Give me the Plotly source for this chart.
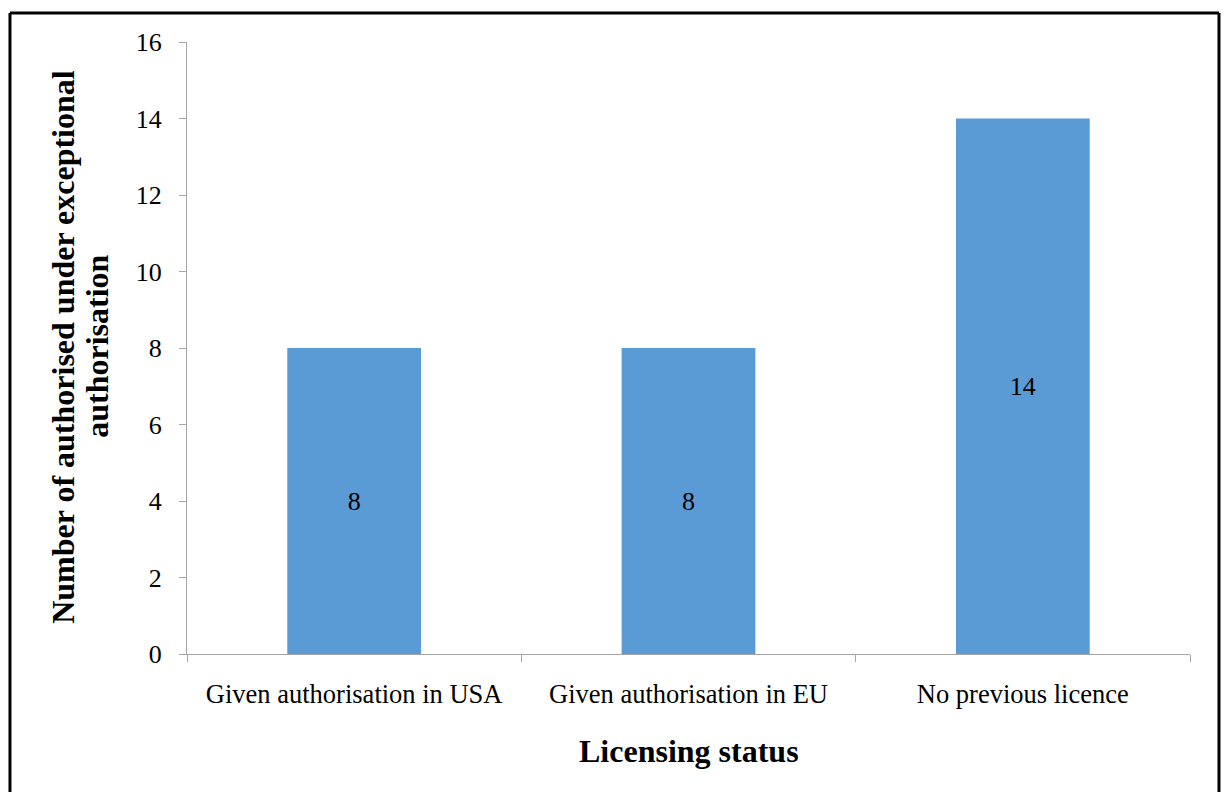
import plotly.graph_objects as go

# Licensing status categories and counts
categories = ["Given authorisation in USA", "Given authorisation in EU", "No previous licence"]
counts = [8, 8, 14]

y_ticks = [0, 2, 4, 6, 8, 10, 12, 14, 16]

x_title = "Licensing status"
y_title_lines = ["Number of authorised under exceptional", "authorisation"]

SERIF = "Liberation Serif"
AXIS_GREY = "#A6A6A6"
BAR_BLUE = "#5B9BD5"

fig = go.Figure(
    go.Bar(
        x=categories,
        y=counts,
        width=0.4,
        marker=dict(color=BAR_BLUE, line=dict(width=0)),
        text=counts,
        texttemplate="%{y}",
        textposition="inside",
        insidetextanchor="middle",
        textangle=0,
        textfont=dict(family=SERIF, size=26, color="black"),
        hoverinfo="skip",
    )
)

# rotated y-axis title, one annotation per line for tighter line spacing
y_title_x = [-0.1236, -0.0897]
y_title_annotations = [
    dict(
        text="<b>" + line + "</b>",
        xref="paper", yref="paper",
        x=xp, y=0.502,
        xanchor="center", yanchor="middle",
        textangle=-90,
        showarrow=False,
        font=dict(family=SERIF, size=32, color="black"),
    )
    for line, xp in zip(y_title_lines, y_title_x)
]

fig.update_layout(
    width=1227,
    height=792,
    margin=dict(l=187, r=37, t=42, b=138),
    paper_bgcolor="white",
    plot_bgcolor="white",
    showlegend=False,
    font=dict(family=SERIF, color="black"),
    xaxis=dict(
        type="category",
        range=[-0.5, 2.5],
        showgrid=False,
        showline=True,
        linecolor=AXIS_GREY,
        linewidth=1,
        ticks="outside",
        tickson="boundaries",
        ticklen=7,
        tickcolor=AXIS_GREY,
        tickfont=dict(family=SERIF, size=26.5, color="black"),
        ticklabelstandoff=16,
        zeroline=False,
    ),
    yaxis=dict(
        range=[0, 16],
        tickvals=y_ticks,
        showgrid=False,
        showline=True,
        linecolor=AXIS_GREY,
        linewidth=1,
        ticks="outside",
        ticklen=7,
        tickcolor=AXIS_GREY,
        tickfont=dict(family=SERIF, size=26, color="black"),
        ticklabelstandoff=12,
        zeroline=False,
    ),
    annotations=[
        dict(
            text="<b>" + x_title + "</b>",
            xref="paper", yref="paper",
            x=0.5, y=-0.158,
            xanchor="center", yanchor="middle",
            showarrow=False,
            font=dict(family=SERIF, size=32, color="black"),
        ),
    ] + y_title_annotations,
    shapes=[
        # outer frame (left, top, right)
        dict(type="line", xref="paper", yref="paper",
             x0=-0.1765, x1=-0.1765, y0=1.0474, y1=-0.25,
             line=dict(color="black", width=3)),
        dict(type="line", xref="paper", yref="paper",
             x0=-0.1765, x1=1.0289, y0=1.0474, y1=1.0474,
             line=dict(color="black", width=3)),
        dict(type="line", xref="paper", yref="paper",
             x0=1.0289, x1=1.0289, y0=1.0474, y1=-0.25,
             line=dict(color="black", width=3)),
    ],
)

fig.write_html("out.html")
